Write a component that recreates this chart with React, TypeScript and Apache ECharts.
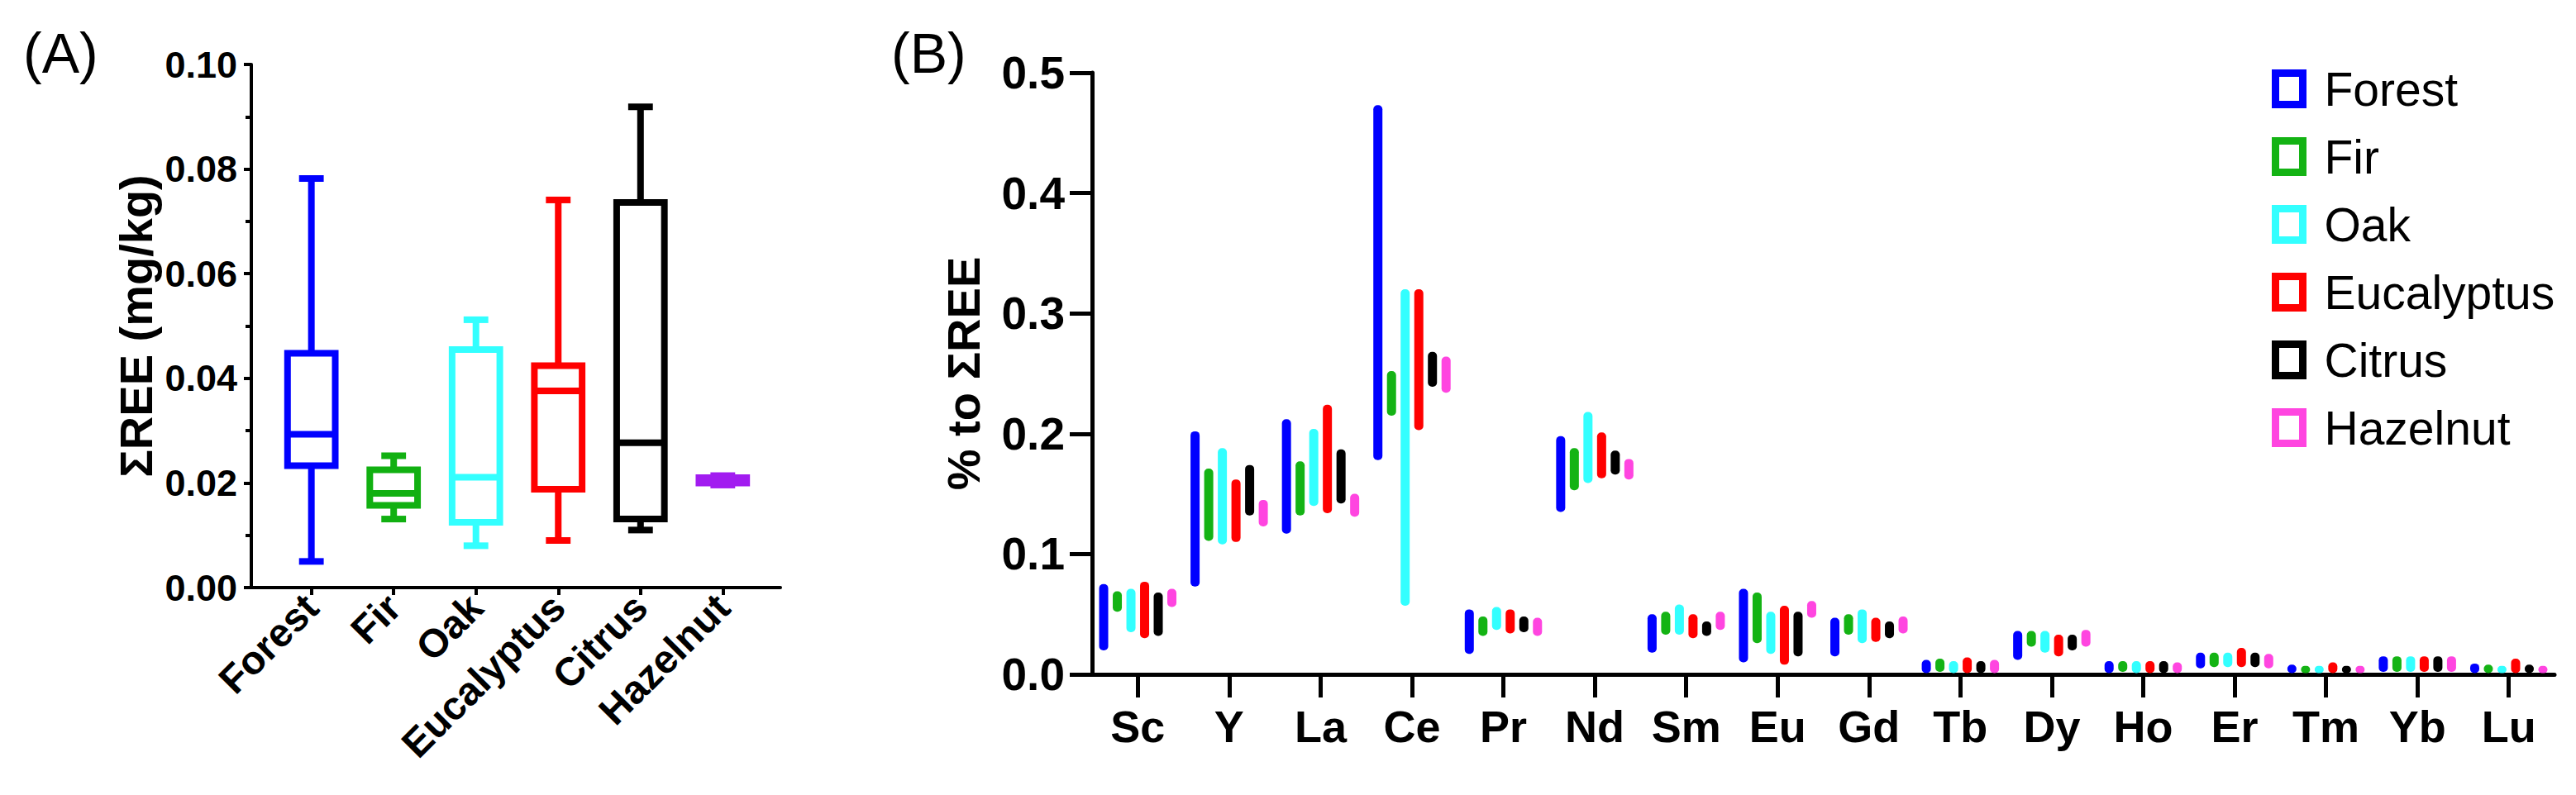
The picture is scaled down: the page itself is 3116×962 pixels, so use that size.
import React, { useEffect, useRef } from 'react';
import * as echarts from 'echarts';

// ---------- Panel A: box plot (ΣREE, mg/kg) ----------
const boxNames = ['Forest', 'Fir', 'Oak', 'Eucalyptus', 'Citrus', 'Hazelnut'];
const boxColors = ['#0000ff', '#11b011', '#33ffff', '#ff0000', '#000000', '#a21cf0'];
const boxMin = [0.005, 0.0131, 0.008, 0.009, 0.011, 0.0196];
const boxQ1 = [0.0233, 0.0157, 0.0125, 0.0188, 0.0131, 0.02];
const boxMedian = [0.0293, 0.018, 0.0211, 0.0376, 0.0277, 0.0205];
const boxQ3 = [0.0448, 0.0225, 0.0455, 0.0424, 0.0736, 0.021];
const boxMax = [0.0782, 0.0252, 0.0512, 0.0741, 0.0919, 0.0214];
const boxTicks = [0, 1, 2, 3, 4, 5];

// ---------- Panel B: floating bars (% to ΣREE) ----------
const elements = ['Sc', 'Y', 'La', 'Ce', 'Pr', 'Nd', 'Sm', 'Eu', 'Gd', 'Tb', 'Dy', 'Ho', 'Er', 'Tm', 'Yb', 'Lu'];
const seriesNames = ['Forest', 'Fir', 'Oak', 'Eucalyptus', 'Citrus', 'Hazelnut'];
const seriesColors = ['#0000ff', '#14b314', '#33ffff', '#ff0000', '#000000', '#ff45e0'];

const forestMin = [0.020, 0.073, 0.117, 0.178, 0.017, 0.135, 0.018, 0.010, 0.015, 0.001, 0.012, 0.001, 0.005, 0.001, 0.002, 0.001];
const forestMax = [0.075, 0.202, 0.212, 0.473, 0.054, 0.198, 0.050, 0.071, 0.047, 0.012, 0.036, 0.011, 0.018, 0.008, 0.015, 0.009];
const firMin = [0.052, 0.111, 0.132, 0.215, 0.032, 0.153, 0.033, 0.026, 0.033, 0.002, 0.023, 0.002, 0.006, 0.001, 0.002, 0.001];
const firMax = [0.069, 0.171, 0.177, 0.252, 0.048, 0.188, 0.052, 0.068, 0.050, 0.013, 0.036, 0.011, 0.018, 0.007, 0.015, 0.008];
const oakMin = [0.035, 0.108, 0.140, 0.057, 0.037, 0.159, 0.033, 0.017, 0.026, 0.001, 0.018, 0.001, 0.006, 0.001, 0.002, 0.001];
const oakMax = [0.071, 0.188, 0.204, 0.320, 0.056, 0.218, 0.058, 0.052, 0.054, 0.011, 0.036, 0.011, 0.018, 0.007, 0.015, 0.007];
const eucMin = [0.030, 0.110, 0.134, 0.203, 0.034, 0.163, 0.030, 0.008, 0.027, 0.001, 0.015, 0.001, 0.006, 0.001, 0.002, 0.001];
const eucMax = [0.077, 0.162, 0.224, 0.320, 0.054, 0.201, 0.050, 0.057, 0.047, 0.014, 0.033, 0.011, 0.022, 0.010, 0.015, 0.013];
const citrusMin = [0.032, 0.132, 0.142, 0.239, 0.035, 0.166, 0.032, 0.015, 0.030, 0.001, 0.020, 0.001, 0.006, 0.001, 0.002, 0.001];
const citrusMax = [0.068, 0.174, 0.187, 0.268, 0.048, 0.186, 0.044, 0.052, 0.044, 0.011, 0.033, 0.011, 0.018, 0.007, 0.015, 0.008];
const hazMin = [0.056, 0.123, 0.131, 0.234, 0.032, 0.162, 0.037, 0.047, 0.034, 0.001, 0.023, 0.001, 0.005, 0.001, 0.002, 0.001];
const hazMax = [0.071, 0.145, 0.150, 0.264, 0.047, 0.179, 0.052, 0.061, 0.048, 0.012, 0.037, 0.010, 0.017, 0.007, 0.015, 0.007];

const mins = [forestMin, firMin, oakMin, eucMin, citrusMin, hazMin];
const maxs = [forestMax, firMax, oakMax, eucMax, citrusMax, hazMax];

const FONT = '"Liberation Sans", Arial, sans-serif';

export default function App() {
  const ref = useRef<HTMLDivElement>(null);

  useEffect(() => {
    document.body.style.margin = '0';
    if (!ref.current) return;
    const chart = echarts.init(ref.current, undefined, { renderer: 'svg' });

    const barSeries: any[] = [];
    seriesNames.forEach((name, i) => {
      barSeries.push({
        name: '_base_' + name,
        type: 'bar',
        xAxisIndex: 1,
        yAxisIndex: 1,
        stack: 'st' + i,
        silent: true,
        barWidth: 11,
        barGap: '50%',
        itemStyle: { color: 'transparent' },
        emphasis: { disabled: true },
        data: mins[i],
      });
      barSeries.push({
        name,
        type: 'bar',
        xAxisIndex: 1,
        yAxisIndex: 1,
        stack: 'st' + i,
        barWidth: 11,
        barGap: '50%',
        itemStyle: { color: seriesColors[i], borderRadius: 5 },
        data: maxs[i].map((v, k) => +(v - mins[i][k]).toFixed(4)),
      });
    });

    const boxData = boxNames.map((_, i) => [i, boxMin[i], boxQ1[i], boxMedian[i], boxQ3[i], boxMax[i]]);

    const option: any = {
      animation: false,
      backgroundColor: '#ffffff',
      textStyle: { fontFamily: FONT },
      grid: [
        { left: 304, top: 78, width: 640, bottom: 251, containLabel: false },
        { left: 1321, top: 88, right: 26, bottom: 146, containLabel: false },
      ],
      xAxis: [
        {
          type: 'value',
          gridIndex: 0,
          min: -0.73,
          max: 5.7,
          splitLine: { show: false },
          axisLine: { show: true, onZero: false, lineStyle: { color: '#000', width: 4 } },
          axisTick: { show: true, customValues: boxTicks, length: 9, lineStyle: { color: '#000', width: 4 } },
          axisLabel: {
            customValues: boxTicks,
            formatter: (v: number) => boxNames[Math.round(v)],
            rotate: 45,
            margin: 16,
            color: '#000',
            fontSize: 48,
            fontWeight: 'bold',
            fontFamily: FONT,
          },
        },
        {
          type: 'category',
          gridIndex: 1,
          data: elements,
          axisLine: { show: true, onZero: false, lineStyle: { color: '#000', width: 5 } },
          axisTick: { show: true, alignWithLabel: true, length: 28, lineStyle: { color: '#000', width: 5 } },
          axisLabel: { margin: 36, color: '#000', fontSize: 54, fontWeight: 'bold', fontFamily: FONT },
          splitLine: { show: false },
        },
      ],
      yAxis: [
        {
          type: 'value',
          gridIndex: 0,
          min: 0,
          max: 0.1,
          interval: 0.02,
          name: 'ΣREE (mg/kg)',
          nameLocation: 'middle',
          nameGap: 112,
          nameTextStyle: { color: '#000', fontSize: 56, fontWeight: 'bold', fontFamily: FONT },
          axisLine: { show: true, onZero: false, lineStyle: { color: '#000', width: 4 } },
          axisTick: { show: true, length: 9, lineStyle: { color: '#000', width: 4 } },
          minorTick: { show: true, splitNumber: 2, length: 7, lineStyle: { color: '#000', width: 4 } },
          axisLabel: {
            formatter: (v: number) => v.toFixed(2),
            margin: 17,
            color: '#000',
            fontSize: 45,
            fontWeight: 'bold',
            fontFamily: FONT,
          },
          splitLine: { show: false },
        },
        {
          type: 'value',
          gridIndex: 1,
          min: 0,
          max: 0.5,
          interval: 0.1,
          name: '% to ΣREE',
          nameLocation: 'middle',
          nameGap: 128,
          nameTextStyle: { color: '#000', fontSize: 56, fontWeight: 'bold', fontFamily: FONT },
          axisLine: { show: true, onZero: false, lineStyle: { color: '#000', width: 5 } },
          axisTick: { show: true, length: 27, lineStyle: { color: '#000', width: 5 } },
          axisLabel: {
            formatter: (v: number) => v.toFixed(1),
            margin: 33,
            color: '#000',
            fontSize: 55,
            fontWeight: 'bold',
            fontFamily: FONT,
          },
          splitLine: { show: false },
        },
      ],
      legend: {
        orient: 'vertical',
        left: 2748,
        top: 79,
        padding: 0,
        itemWidth: 33,
        itemHeight: 38,
        itemGap: 25,
        icon: 'rect',
        selectedMode: false,
        textStyle: { fontSize: 57, color: '#000', fontFamily: FONT, padding: [0, 0, 0, 21] },
        data: seriesNames.map((name, i) => ({
          name,
          itemStyle: { color: '#ffffff', borderColor: seriesColors[i], borderWidth: 9 },
        })),
      },
      graphic: [
        { type: 'text', left: 28, top: 30, style: { text: '(A)', fontSize: 68, fontFamily: FONT, fill: '#000' } },
        { type: 'text', left: 1078, top: 30, style: { text: '(B)', fontSize: 68, fontFamily: FONT, fill: '#000' } },
      ],
      series: [
        {
          type: 'custom',
          name: 'box',
          xAxisIndex: 0,
          yAxisIndex: 0,
          encode: { x: 0, y: [1, 2, 3, 4, 5] },
          data: boxData,
          renderItem: (params: any, api: any) => {
            const x = api.value(0);
            const c = boxColors[x];
            const band = api.size([1, 0])[0];
            const bw = band * 0.58;
            const cw = band * 0.3;
            const pMin = api.coord([x, api.value(1)]);
            const pQ1 = api.coord([x, api.value(2)]);
            const pMed = api.coord([x, api.value(3)]);
            const pQ3 = api.coord([x, api.value(4)]);
            const pMax = api.coord([x, api.value(5)]);
            const cx = pMin[0];
            const st = { stroke: c, lineWidth: 8, fill: 'none' };
            return {
              type: 'group',
              children: [
                { type: 'line', shape: { x1: cx, y1: pQ3[1], x2: cx, y2: pMax[1] }, style: st },
                { type: 'line', shape: { x1: cx - cw / 2, y1: pMax[1], x2: cx + cw / 2, y2: pMax[1] }, style: st },
                { type: 'line', shape: { x1: cx, y1: pQ1[1], x2: cx, y2: pMin[1] }, style: st },
                { type: 'line', shape: { x1: cx - cw / 2, y1: pMin[1], x2: cx + cw / 2, y2: pMin[1] }, style: st },
                { type: 'rect', shape: { x: cx - bw / 2, y: pQ3[1], width: bw, height: pQ1[1] - pQ3[1] }, style: st },
                { type: 'line', shape: { x1: cx - bw / 2, y1: pMed[1], x2: cx + bw / 2, y2: pMed[1] }, style: st },
              ],
            };
          },
        },
        ...barSeries,
      ],
    };

    chart.setOption(option);
    return () => {
      chart.dispose();
    };
  }, []);

  return <div ref={ref} style={{ width: 3116, height: 962 }} />;
}
